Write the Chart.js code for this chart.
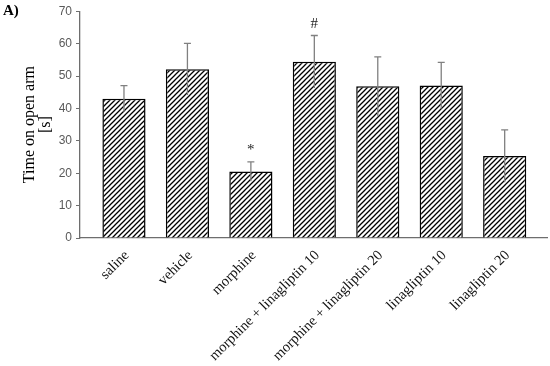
<!DOCTYPE html>
<html>
<head>
<meta charset="utf-8">
<script src="https://cdn.jsdelivr.net/npm/chart.js@4.4.1/dist/chart.umd.min.js"></script>
<style>
  html, body { margin: 0; padding: 0; background: #fff; }
  #wrap { position: relative; width: 550px; height: 366px; }
  #panel { position: absolute; left: 3px; top: 2px; font: bold 15px "Liberation Serif", serif; }
</style>
</head>
<body>
<div id="wrap">
  <canvas id="chart" width="550" height="366"></canvas>
  <div id="panel">A)</div>
</div>
<script>
// Data
const categories = ["saline", "vehicle", "morphine", "morphine + linagliptin 10",
                    "morphine + linagliptin 20", "linagliptin 10", "linagliptin 20"];
const means = [43.0, 52.1, 20.5, 54.4, 46.8, 47.1, 25.3];
const errors = [4.0, 8.0, 3.0, 8.1, 9.1, 7.1, 8.1];
const marks = ["", "", "*", "#", "", "", ""];
const yTicks = [0, 10, 20, 30, 40, 50, 60, 70];

// Hatch pattern "/" like the original
function makeHatch() {
    const s = 5;
    const c = document.createElement("canvas");
    c.width = s; c.height = s;
    const g = c.getContext("2d");
    g.fillStyle = "#fff";
    g.fillRect(0, 0, s, s);
    g.strokeStyle = "#000";
    g.lineWidth = 1.3;
    g.beginPath();
    g.moveTo(-1, s + 1); g.lineTo(s + 1, -1);
    g.moveTo(-1, 1); g.lineTo(1, -1);
    g.moveTo(s - 1, s + 1); g.lineTo(s + 1, s - 1);
    g.stroke();
    return g.createPattern(c, "repeat");
}

// Error bars + significance marks
const errorBars = {
    id: "errorBars",
    afterDatasetsDraw(chart) {
        const { ctx, scales: { x, y } } = chart;
        ctx.save();
        ctx.strokeStyle = "#808080";
        ctx.lineWidth = 1.3;
        means.forEach((m, i) => {
            const px = x.getPixelForValue(i);
            const top = y.getPixelForValue(m + errors[i]);
            const bot = y.getPixelForValue(m - errors[i]);
            ctx.beginPath();
            ctx.moveTo(px, bot); ctx.lineTo(px, top);
            ctx.moveTo(px - 3.5, top); ctx.lineTo(px + 3.5, top);
            ctx.stroke();
            if (marks[i]) {
                ctx.fillStyle = "#222";
                ctx.font = "15px 'Liberation Serif', serif";
                ctx.textAlign = "center";
                ctx.textBaseline = "bottom";
                ctx.fillText(marks[i], px, top - 4);
            }
        });
        ctx.restore();
    }
};

const ctx = document.getElementById("chart").getContext("2d");
new Chart(ctx, {
    type: "bar",
    data: {
        datasets: [{
            data: means.map((v, i) => ({ x: i, y: v })),
            backgroundColor: makeHatch(),
            borderColor: "#000",
            borderWidth: 1.5,
            categoryPercentage: 1,
            barPercentage: 0.68
        }]
    },
    options: {
        responsive: false,
        animation: false,
        layout: { padding: { top: 8, right: 3, left: 0, bottom: 0 } },
        plugins: { legend: { display: false }, tooltip: { enabled: false } },
        scales: {
            x: {
                type: "linear",
                offset: false,
                min: -0.693,
                max: 6.667,
                afterBuildTicks: (scale) => { scale.ticks = categories.map((c, i) => ({ value: i })); },
                afterFit: (scale) => { scale.height = 128; },
                grid: { display: false, drawTicks: false, offset: false },
                border: { display: true, color: "#6e6e6e", width: 1.3 },
                ticks: {
                    autoSkip: false,
                    minRotation: 45,
                    maxRotation: 45,
                    padding: 9,
                    labelOffset: 3,
                    color: "#111",
                    font: { family: "'Liberation Serif', serif", size: 14.5 },
                    callback: (v) => categories[v]
                }
            },
            y: {
                min: 0,
                max: 70,
                afterBuildTicks: (scale) => { scale.ticks = yTicks.map(v => ({ value: v })); },
                afterFit: (scale) => { scale.width = 80; },
                grid: { drawOnChartArea: false, drawTicks: true, tickLength: 4, color: "#6e6e6e" },
                border: { display: true, color: "#6e6e6e", width: 1.3 },
                ticks: {
                    padding: 4,
                    color: "#595959",
                    font: { family: "'Liberation Sans', sans-serif", size: 12 }
                },
                title: {
                    display: true,
                    text: ["Time on open arm", "[s]"],
                    color: "#000",
                    font: { family: "'Liberation Serif', serif", size: 16, lineHeight: 1.0 },
                    padding: { top: 22, bottom: 0 }
                }
            }
        }
    },
    plugins: [errorBars]
});
</script>
</body>
</html>
